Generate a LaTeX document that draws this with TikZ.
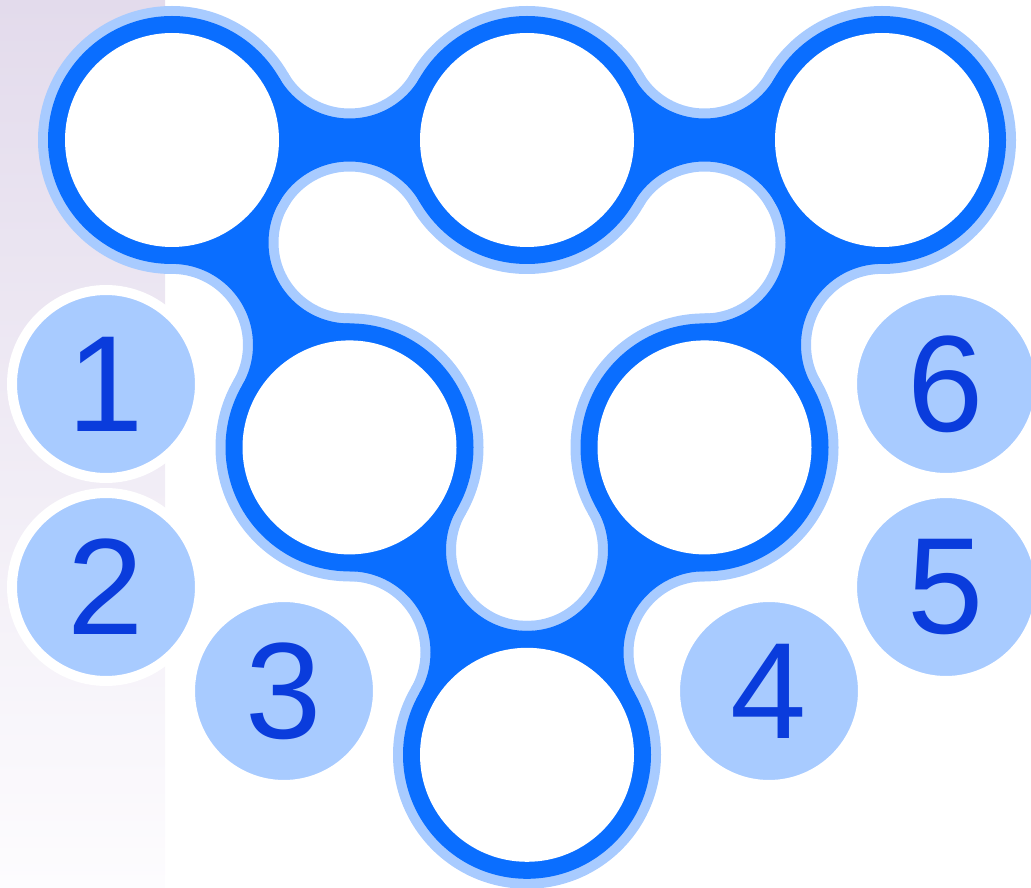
\documentclass[tikz,border=0pt]{standalone}
\usepackage{fontspec}
\setmainfont{Liberation Sans}
\definecolor{ringblue}{RGB}{10,110,255}
\definecolor{rimblue}{RGB}{168,203,255}
\definecolor{digitblue}{RGB}{10,60,220}
\definecolor{stripTop}{RGB}{227,219,236}
\definecolor{stripBottom}{RGB}{253,252,254}

\begin{document}
\begin{tikzpicture}[
  x=0.02cm, y=-0.02cm,
  every node/.style={font=\fontsize{78}{80}\selectfont},
  badge node/.style={circle,draw=white,line width=0.2cm,fill=rimblue,minimum size=3.76cm,inner sep=0pt,text=digitblue},
]
\useasboundingbox (0,0) rectangle (1031,888);
\shade[top color=stripTop,bottom color=stripBottom] (0,0) rectangle (165,888);

% ring centres
\coordinate (TL) at (172,140);
\coordinate (TM) at (527,140);
\coordinate (TR) at (882,140);
\coordinate (ML) at (349.5,447.4);
\coordinate (MR) at (704.5,447.4);
\coordinate (B)  at (527,754.8);
% fillet centres, inside and outside the chain
\coordinate (fA) at (349.5,242.5);
\coordinate (fB) at (704.5,242.5);
\coordinate (fC) at (527,549.9);
\coordinate (gT1) at (349.5,37.5);
\coordinate (gT2) at (704.5,37.5);
\coordinate (gL)  at (172,344.9);
\coordinate (gR)  at (882,344.9);
\coordinate (gBL) at (349.5,652.3);
\coordinate (gBR) at (704.5,652.3);

% rim first, then the blue chain on top
\foreach \col/\rr/\ff in {rimblue/134/71,ringblue/124/81} {
  \foreach \c in {TL,TM,TR,ML,MR,B}
    \fill[\col] (\c) circle (\rr);
  \foreach \a/\b/\o/\i in {TL/TM/gT1/fA,TM/TR/gT2/fB,TL/ML/gL/fA,TR/MR/gR/fB,ML/B/gBL/fC,MR/B/gBR/fC} {
    \begin{scope}
      \clip (\a) -- (\o) -- (\b) -- (\i) -- cycle;
      \fill[\col,even odd rule] (-50,-50) rectangle (1100,950)
        (\o) circle (\ff) (\i) circle (\ff);
    \end{scope}
  }
}
% holes
\foreach \c in {TL,TM,TR,ML,MR,B}
  \fill[white] (\c) circle (107);

% numbered badges
\node[badge node] (n1) at (106,384) {1};
\node[badge node] (n2) at (106,587) {2};
\node[badge node] (n3) at (284,691) {3};
\node[badge node] (n4) at (769,691) {4};
\node[badge node] (n5) at (946,587) {5};
\node[badge node] (n6) at (946,384) {6};
\end{tikzpicture}
\end{document}
